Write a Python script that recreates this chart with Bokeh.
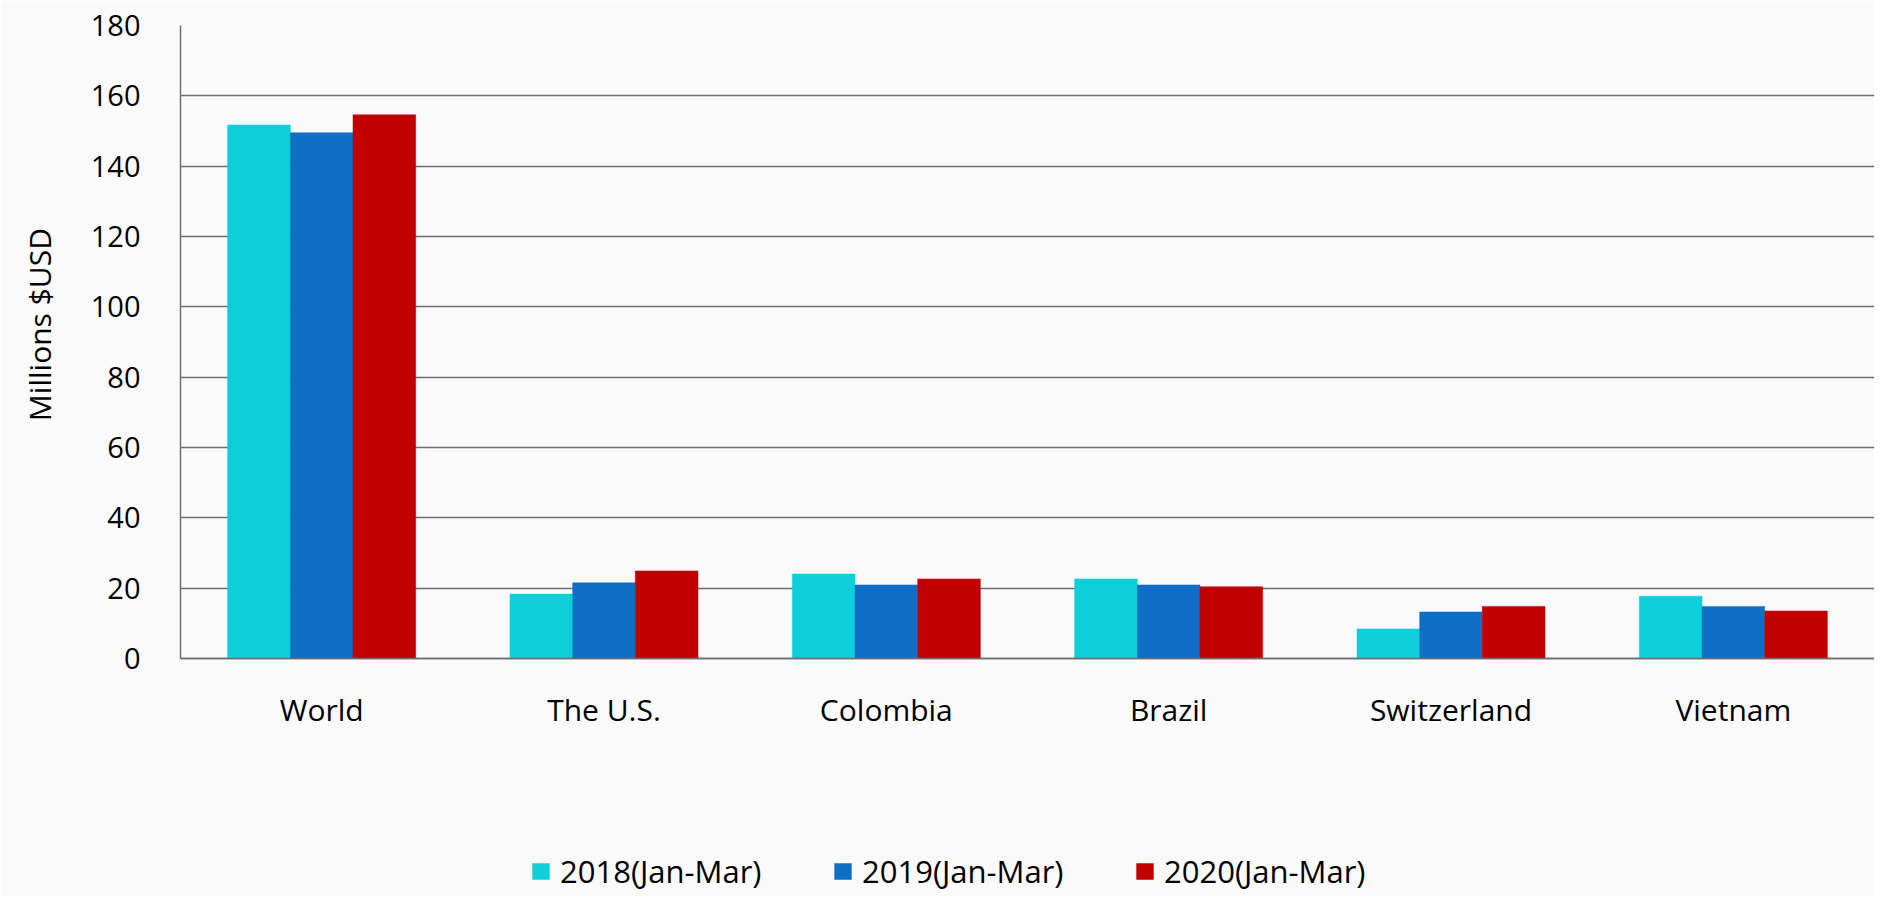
from bokeh.plotting import figure
from bokeh.models import ColumnDataSource, FactorRange, Range1d, FixedTicker, Legend, LegendItem
from bokeh.transform import dodge
from bokeh.embed import file_html
from bokeh.resources import INLINE

categories = ["World", "The U.S.", "Colombia", "Brazil", "Switzerland", "Vietnam"]
series_names = ["2018(Jan-Mar)", "2019(Jan-Mar)", "2020(Jan-Mar)"]
v2018 = [151.7, 18.3, 24.0, 22.6, 8.4, 17.7]
v2019 = [149.5, 21.5, 20.9, 20.9, 13.2, 14.8]
v2020 = [154.6, 24.9, 22.6, 20.4, 14.8, 13.5]
y_ticks = [0, 20, 40, 60, 80, 100, 120, 140, 160, 180]
y_title = "Millions $USD"
colors = ["#0CCFD9", "#0F6FC6", "#C00000"]

FONT = "Open Sans"
BG = "#FAFAFA"

src = ColumnDataSource(dict(cat=categories, a=v2018, b=v2019, c=v2020))

# frame covers the plot and the legend strip beneath it; axis at y=0
y_top = y_ticks[-1]
y_bottom = -67.7

p = figure(width=1874, height=896, output_backend="svg", toolbar_location=None,
           x_range=FactorRange(*categories, range_padding=0, factor_padding=0),
           y_range=Range1d(y_bottom, y_top),
           min_border_left=180, min_border_right=0, min_border_top=25, min_border_bottom=0)
p.background_fill_color = BG
p.border_fill_color = BG
p.outline_line_color = None

bw = 0.222
renderers = []
for field, off, col in zip(["a", "b", "c"], [-bw, 0, bw], colors):
    r = p.vbar(x=dodge("cat", off, range=p.x_range), top=field, width=bw, source=src,
               fill_color=col, line_color=col, line_width=0.5)
    renderers.append(r)

p.yaxis.ticker = FixedTicker(ticks=y_ticks)
p.ygrid.ticker = FixedTicker(ticks=y_ticks)
p.ygrid.grid_line_color = "#6E6E6E"
p.ygrid.grid_line_width = 1.5
p.xgrid.grid_line_color = None

for ax in (p.xaxis, p.yaxis):
    ax.axis_line_color = "#6E6E6E"
    ax.axis_line_width = 1.5
    ax.major_tick_line_color = None
    ax.minor_tick_line_color = None
    ax.major_label_text_font = FONT
    ax.major_label_text_color = "#000000"

p.yaxis.major_label_text_font_size = "29px"
p.xaxis.major_label_text_font_size = "30px"
p.xaxis.fixed_location = 0
p.yaxis.bounds = (0, y_top)
p.yaxis.major_label_standoff = 34
p.xaxis.major_label_standoff = 25
# leading no-break spaces lift the label to the middle of the value axis (0..180)
p.yaxis.axis_label = "\u00a0" * 35 + y_title
p.yaxis.axis_label_text_font = FONT
p.yaxis.axis_label_text_font_size = "30px"
p.yaxis.axis_label_text_font_style = "normal"
p.yaxis.axis_label_text_color = "#000000"
p.yaxis.axis_label_standoff = 28

legend = Legend(items=[LegendItem(label=n, renderers=[r]) for n, r in zip(series_names, renderers)],
                orientation="horizontal", location=(350, 4))
legend.background_fill_alpha = 0
legend.border_line_color = None
legend.label_text_font = FONT
legend.label_text_font_size = "31px"
legend.label_text_color = "#000000"
legend.glyph_width = 21
legend.glyph_height = 20
legend.label_standoff = 9
legend.label_width = 252
legend.spacing = 20
legend.padding = 0
legend.margin = 0
p.add_layout(legend, "center")

open("out.html", "w").write(file_html(p, INLINE))
